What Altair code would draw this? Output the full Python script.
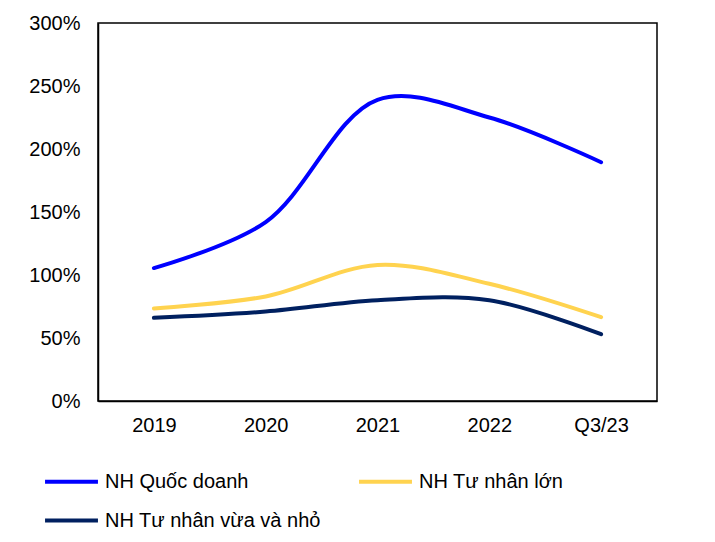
import altair as alt
import pandas as pd

periods = ["2019", "2020", "2021", "2022", "Q3/23"]
series_names = ["NH Quốc doanh", "NH Tư nhân lớn", "NH Tư nhân vừa và nhỏ"]
quoc_doanh = [1.055, 1.42, 2.39, 2.25, 1.895]
tu_nhan_lon = [0.735, 0.83, 1.08, 0.93, 0.665]
vua_nho = [0.66, 0.71, 0.80, 0.80, 0.53]
colors = ["#0000FF", "#FFD34F", "#002060"]

# legend grid is filled column by column
legend_order = [series_names[0], series_names[2], series_names[1]]
legend_colors = [colors[0], colors[2], colors[1]]

rows = []
for name, vals in zip(series_names, [quoc_doanh, tu_nhan_lon, vua_nho]):
    for p, v in zip(periods, vals):
        rows.append({"period": p, "series": name, "value": v})
df = pd.DataFrame(rows)

font = "Liberation Sans"
fs = 20

chart = alt.Chart(df).mark_line(
    interpolate="catmull-rom", strokeWidth=4, strokeCap="round"
).encode(
    x=alt.X("period:N", sort=periods, title="",
            scale=alt.Scale(paddingInner=0, paddingOuter=0.5),
            axis=alt.Axis(labelAngle=0, ticks=False, labelPadding=14,
                          domainColor="black", domainWidth=1.5,
                          labelFont=font, labelFontSize=fs, labelColor="black")),
    y=alt.Y("value:Q", title="",
            scale=alt.Scale(domain=[0, 3], nice=False),
            axis=alt.Axis(values=[0, 0.5, 1, 1.5, 2, 2.5, 3], format=".0%",
                          ticks=False, grid=False, labelPadding=18,
                          domainColor="black", domainWidth=1.5,
                          labelFont=font, labelFontSize=fs, labelColor="black")),
    color=alt.Color("series:N", sort=legend_order,
                    scale=alt.Scale(domain=legend_order, range=legend_colors),
                    legend=alt.Legend(title=None, orient="none", legendX=-55, legendY=430,
                                      columns=2, columnPadding=30, rowPadding=-12,
                                      symbolType="stroke", symbolSize=2800,
                                      symbolStrokeWidth=4, labelOffset=5,
                                      labelLimit=400,
                                      labelFont=font, labelFontSize=fs,
                                      labelColor="black")),
).properties(
    width=559, height=378,
    autosize=alt.AutoSizeParams(type="none"),
    padding={"left": 90, "top": 15, "right": 50, "bottom": 133},
).configure_view(
    stroke="black", strokeWidth=1.5
).configure_axis(grid=False)

chart.save("out.html", embed_options={"renderer": "svg", "actions": False})
